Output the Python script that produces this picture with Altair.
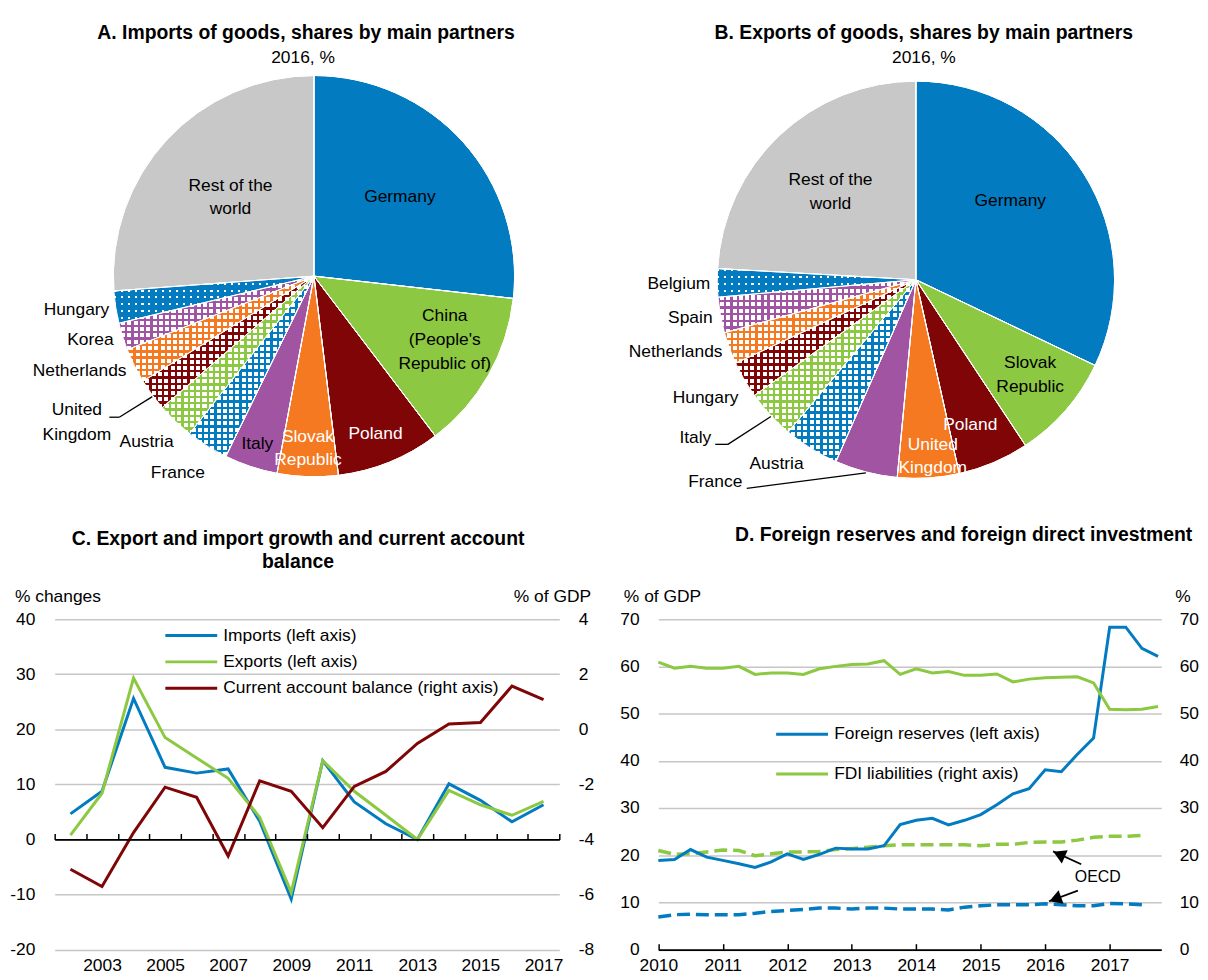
import math
import altair as alt
import pandas as pd

FONT = "Liberation Sans"
FS = 17.5
TFS = 19.5

BLUE = "#037BC1"
GREEN = "#8CC841"
RED = "#7F0506"
ORANGE = "#F47920"
PURPLE = "#A154A1"
GREY = "#C8C8C8"
CLEAR = "rgba(255,255,255,0)"

# ------------------------------------------------------------------ data
A_CATS = ["Germany", "China (People's Republic of)", "Poland", "Slovak Republic", "Italy",
          "France", "Austria", "United Kingdom", "Netherlands", "Korea", "Hungary",
          "Rest of the world"]
A_SHARES = [26.8, 12.9, 8.4, 4.9, 4.3, 3.4, 3.0, 2.6, 2.8, 2.2, 2.6, 26.2]

B_CATS = ["Germany", "Slovak Republic", "Poland", "United Kingdom", "France", "Austria",
          "Italy", "Hungary", "Netherlands", "Spain", "Belgium", "Rest of the world"]
B_SHARES = [32.1, 8.6, 5.8, 5.0, 5.1, 4.5, 4.0, 3.0, 2.6, 2.9, 2.3, 24.1]

C_YEARS = [2002, 2003, 2004, 2005, 2006, 2007, 2008, 2009,
           2010, 2011, 2012, 2013, 2014, 2015, 2016, 2017]
C_IMPORTS = [4.65, 8.75, 25.6, 13.1, 12.05, 12.8, 3.3, -10.8,
             14.3, 6.8, 2.85, 0.0, 10.1, 7.1, 3.2, 6.3]
C_EXPORTS = [0.8, 8.4, 29.3, 18.5, 14.8, 11.1, 4.05, -9.6,
             14.3, 8.75, 4.4, 0.0, 8.9, 6.3, 4.4, 6.9]
C_CURRENT = [-5.08, -5.71, -3.75, -2.1, -2.47, -4.6, -1.87, -2.25,
             -3.57, -2.07, -1.53, -0.51, 0.19, 0.25, 1.57, 1.08]
C_SERIES = ["Imports (left axis)", "Exports (left axis)",
            "Current account balance (right axis)"]

D_QUARTERS = [f"{y}Q{q}" for y in range(2010, 2018) for q in range(1, 5)]
D_RESERVES = [18.9, 19.1, 21.2, 19.6, 18.9, 18.2, 17.4, 18.6,
              20.3, 19.1, 20.2, 21.5, 21.3, 21.3, 22.0, 26.5,
              27.4, 27.8, 26.4, 27.4, 28.6, 30.7, 33.0, 34.1,
              38.1, 37.7, 41.4, 44.8, 68.3, 68.3, 63.8, 62.1]
D_RESERVES_OECD = [6.9, 7.4, 7.5, 7.4, 7.4, 7.4, 7.7, 8.1,
                   8.3, 8.5, 8.8, 8.8, 8.6, 8.8, 8.8, 8.6,
                   8.6, 8.6, 8.4, 9.0, 9.3, 9.5, 9.5, 9.5,
                   9.7, 9.5, 9.3, 9.3, 9.8, 9.7, 9.5]
D_FDI = [60.9, 59.6, 60.0, 59.6, 59.6, 60.0, 58.3, 58.6,
         58.6, 58.3, 59.5, 60.0, 60.4, 60.5, 61.2, 58.3,
         59.5, 58.6, 58.9, 58.1, 58.1, 58.4, 56.7, 57.3,
         57.6, 57.7, 57.8, 56.5, 50.9, 50.8, 50.9, 51.5]
D_FDI_OECD = [21.0, 20.2, 20.3, 20.7, 21.1, 21.0, 19.9, 20.3,
              20.7, 20.7, 20.8, 21.2, 21.4, 21.7, 22.0, 22.2,
              22.2, 22.2, 22.2, 22.2, 22.0, 22.3, 22.3, 22.7,
              22.8, 22.8, 23.2, 23.8, 24.0, 24.0, 24.2]
D_SERIES = ["Foreign reserves (left axis)", "FDI liabilities (right axis)"]

# ------------------------------------------------------------------ styles
SLICE_STYLE = ["solid", "solid", "solid", "solid", "solid",
               "hatch", "hatch", "hatch", "hatch", "hatch", "dots", "solid"]
SLICE_COLOR = [BLUE, GREEN, RED, ORANGE, PURPLE,
               BLUE, GREEN, RED, ORANGE, PURPLE, BLUE, GREY]
HATCH_PERIOD, HATCH_FRAC = 6.3, 0.36
DOT_PERIOD, DOT_FRAC = 7.0, 0.3

LINES = {
    "Rest of the world": ["Rest of the", "world"],
    "China (People's Republic of)": ["China", "(People's", "Republic of)"],
    "Slovak Republic": ["Slovak", "Republic"],
    "United Kingdom": ["United", "Kingdom"],
}

# label placement (pixels in the view, first line): name -> x, y, align, colour, line height
A_LABEL_POS = {
    "Germany": (394.5, 187, "center", "black", 24),
    "China (People's Republic of)": (439.7, 307, "center", "black", 24),
    "Poland": (370, 426, "center", "white", 24),
    "Slovak Republic": (302, 428.7, "center", "white", 23.5),
    "Italy": (251, 436, "center", "black", 24),
    "France": (171, 465.3, "center", "black", 24),
    "Austria": (139.5, 433.3, "center", "black", 24),
    "United Kingdom": (69.3, 401, "center", "black", 25.5),
    "Netherlands": (119.3, 362.7, "right", "black", 24),
    "Korea": (106.3, 331.3, "right", "black", 24),
    "Hungary": (102, 300.7, "right", "black", 24),
    "Rest of the world": (224, 176, "center", "black", 23.3),
}
B_LABEL_POS = {
    "Germany": (1009, 191.3, "center", "black", 24),
    "Slovak Republic": (1029, 353.7, "center", "black", 24.3),
    "Poland": (968.7, 416.3, "center", "white", 24),
    "United Kingdom": (931, 437, "center", "white", 23.2),
    "France": (712, 473.7, "center", "black", 24),
    "Austria": (773.7, 456, "center", "black", 24),
    "Italy": (708, 429.7, "right", "black", 24),
    "Hungary": (735.3, 389.3, "right", "black", 24),
    "Netherlands": (719.3, 342.7, "right", "black", 24),
    "Spain": (709.3, 308.7, "right", "black", 24),
    "Belgium": (707, 274.7, "right", "black", 24),
    "Rest of the world": (828, 170.3, "center", "black", 23.4),
}
LEADERS = [
    ((102, 408.7), (112, 408.7)), ((112, 408.7), (145.3, 388)),
    ((712, 436), (724.7, 436)), ((724.7, 436), (768, 408)),
    ((743.7, 480.3), (863.7, 464.7)),
]
HYPHEN_LABEL = "datum.value < 0 ? '-' + abs(datum.value) : '' + datum.value"

DUMMY = alt.Data(values=[{}])


def stripes(c_on, c_off, n, frac, along_x):
    stops = []
    for k in range(n):
        a, b, c = k / n, (k + frac) / n, (k + 1) / n
        stops += [{"offset": round(a, 5), "color": c_on},
                  {"offset": round(b, 5), "color": c_on},
                  {"offset": round(b, 5), "color": c_off},
                  {"offset": round(c, 5), "color": c_off}]
    return {"gradient": "linear", "stops": stops, "x1": 0, "y1": 0,
            "x2": 1 if along_x else 0, "y2": 0 if along_x else 1}


def wedge_bbox(a0, a1, r):
    xs, ys = [0.0], [0.0]
    for j in range(81):
        t = math.radians(a0 + (a1 - a0) * j / 80)
        xs.append(r * math.sin(t))
        ys.append(-r * math.cos(t))
    return max(xs) - min(xs), max(ys) - min(ys)


def text_layer(x, y, txt, size=FS, weight="normal", align="center",
               baseline="middle", color="black", line_height=24):
    return alt.Chart(DUMMY).mark_text(
        font=FONT, fontSize=size, fontWeight=weight, align=align,
        baseline=baseline, color=color, lineHeight=line_height
    ).encode(x=alt.value(x), y=alt.value(y), text=alt.value(txt))


def pie(cats, shares, cx, cy, r, label_pos):
    df = pd.DataFrame({"cat": cats, "share": shares, "idx": list(range(len(cats)))})
    base = (alt.Chart(df)
            .transform_joinaggregate(total="sum(share)")
            .transform_window(cum="sum(share)", sort=[alt.SortField("idx")], frame=[None, 0])
            .transform_calculate(end="datum.cum / datum.total",
                                 start="(datum.cum - datum.share) / datum.total"))
    enc = dict(theta=alt.Theta("start:Q", scale=alt.Scale(domain=[0, 1])),
               theta2=alt.Theta2("end:Q"), x=alt.value(cx), y=alt.value(cy))
    base_fill = ["white" if s == "hatch" else c for s, c in zip(SLICE_STYLE, SLICE_COLOR)]
    layers = [base.mark_arc(radius=r, stroke="white", strokeWidth=1).encode(
        fill=alt.Fill("cat:N", scale=alt.Scale(domain=cats, range=base_fill), legend=None),
        **enc)]
    total = sum(shares)
    acc = 0.0
    for i, s in enumerate(shares):
        a0 = acc / total * 360
        acc += s
        a1 = acc / total * 360
        style = SLICE_STYLE[i]
        if style == "solid":
            continue
        w, h = wedge_bbox(a0, a1, r)
        sub = base.transform_filter(f"datum.idx == {i}")
        if style == "hatch":
            g1 = stripes(SLICE_COLOR[i], CLEAR, max(2, round(w / HATCH_PERIOD)), HATCH_FRAC, True)
            g2 = stripes(SLICE_COLOR[i], CLEAR, max(2, round(h / HATCH_PERIOD)), HATCH_FRAC, False)
        else:
            g1 = stripes("white", CLEAR, max(2, round(w / DOT_PERIOD)), DOT_FRAC, True)
            g2 = stripes(CLEAR, SLICE_COLOR[i], max(2, round(h / DOT_PERIOD)), DOT_FRAC, False)
        layers.append(sub.mark_arc(radius=r, fill=g1).encode(**enc))
        layers.append(sub.mark_arc(radius=r, fill=g2).encode(**enc))
    layers.append(base.mark_arc(radius=r, fill="white", fillOpacity=0, stroke="white",
                                strokeWidth=1).encode(**enc))
    for cat in cats:
        x, y, al, col, lh = label_pos[cat]
        layers.append(text_layer(x, y, LINES.get(cat, cat), align=al, color=col,
                                 line_height=lh))
    return layers


# ------------------------------------------------------------------ panel C
C_X = alt.Scale(domain=[2001.5, 2017.5], range=[47, 555], nice=False, zero=False)
C_YL = alt.Scale(domain=[-20, 40], range=[944.7, 612], nice=False, zero=False)
C_YR = alt.Scale(domain=[-8, 4], range=[944.7, 612], nice=False, zero=False)

c_left_df = pd.DataFrame({"year": C_YEARS * 2, "value": C_IMPORTS + C_EXPORTS,
                          "series": [C_SERIES[0]] * len(C_YEARS) + [C_SERIES[1]] * len(C_YEARS)})
c_right_df = pd.DataFrame({"year": C_YEARS, "value": C_CURRENT,
                           "series": [C_SERIES[2]] * len(C_YEARS)})

c_legend = alt.Legend(orient="none", legendX=174, legendY=618, title=None,
                      symbolType="M-2.9,0H2.9", symbolSize=324, symbolStrokeWidth=3,
                      labelOffset=21.7, rowPadding=7.5, labelFontSize=FS, labelFont=FONT,
                      labelColor="black", labelLimit=500)
c_color = alt.Color("series:N", scale=alt.Scale(domain=C_SERIES, range=[BLUE, GREEN, RED]),
                    legend=c_legend)

c_left = alt.Chart(c_left_df).mark_line(strokeWidth=3).encode(
    x=alt.X("year:Q", scale=C_X, axis=alt.Axis(
        orient="bottom", offset=-27.3, values=[2003, 2005, 2007, 2009, 2011, 2013, 2015, 2017],
        format="d", domain=False, ticks=False, grid=False, labelPadding=7, labelFlush=False,
        title=None)),
    y=alt.Y("value:Q", scale=C_YL, axis=alt.Axis(
        orient="left", offset=-47, values=[-20, -10, 0, 10, 20, 30, 40], grid=True,
        gridColor="#C6C6C6", gridWidth=1.5, domain=False, ticks=False, tickSize=0,
        labelPadding=20, labelFlush=False, labelExpr=HYPHEN_LABEL, title=None)),
    color=c_color,
)
c_right = alt.Chart(c_right_df).mark_line(strokeWidth=3).encode(
    x=alt.X("year:Q", scale=C_X, axis=alt.Axis(
        orient="top", offset=-833.8, values=[y - 0.5 for y in range(2002, 2019)],
        labels=False, grid=False, domain=True, domainColor="black", domainWidth=1.8,
        ticks=True, tickColor="black", tickSize=6, tickWidth=1.5, zindex=1, title=None)),
    y=alt.Y("value:Q", scale=C_YR, axis=alt.Axis(
        orient="right", offset=-645, values=[-8, -6, -4, -2, 0, 2, 4], grid=False,
        domain=False, ticks=False, tickSize=0, labelPadding=19, labelFlush=False,
        labelExpr=HYPHEN_LABEL, title=None)),
    color=c_color,
)
panel_c = alt.layer(c_left, c_right).resolve_scale(y="independent").resolve_axis(
    x="independent", y="independent")

# ------------------------------------------------------------------ panel D
D_T = [int(q[:4]) + (int(q[-1]) - 1) / 4 for q in D_QUARTERS]
D_X = alt.Scale(domain=[2010, 2017.8], range=[654.7, 1161], nice=False, zero=False)
D_Y = alt.Scale(domain=[0, 70], range=[944.7, 612], nice=False, zero=False)

d_legend = alt.Legend(orient="none", legendX=788.9, legendY=717.3, title=None,
                      symbolType="M-2.9,0H2.9", symbolSize=324, symbolStrokeWidth=3,
                      labelOffset=21.8, rowPadding=21, labelFontSize=FS, labelFont=FONT,
                      labelColor="black", labelLimit=500)
d_color = alt.Color("series:N", scale=alt.Scale(domain=D_SERIES, range=[BLUE, GREEN]),
                    legend=d_legend)

res_df = pd.DataFrame({"t": D_T, "value": D_RESERVES, "series": D_SERIES[0]})
fdi_df = pd.DataFrame({"t": D_T, "value": D_FDI, "series": D_SERIES[1]})
res_oecd_df = pd.DataFrame({"t": D_T[:len(D_RESERVES_OECD)], "value": D_RESERVES_OECD})
fdi_oecd_df = pd.DataFrame({"t": D_T[:len(D_FDI_OECD)], "value": D_FDI_OECD})

x_none = dict(scale=D_X, axis=None)
y_none = dict(scale=D_Y, axis=None)

d_res_oecd = alt.Chart(res_oecd_df).mark_line(strokeWidth=3.5, strokeDash=[13, 6], color=BLUE).encode(
    x=alt.X("t:Q", **x_none), y=alt.Y("value:Q", **y_none))
d_fdi_oecd = alt.Chart(fdi_oecd_df).mark_line(strokeWidth=3.5, strokeDash=[13, 6], color=GREEN).encode(
    x=alt.X("t:Q", **x_none), y=alt.Y("value:Q", **y_none))
d_res = alt.Chart(res_df).mark_line(strokeWidth=3).encode(
    x=alt.X("t:Q", scale=D_X, axis=alt.Axis(
        orient="bottom", offset=-27.3, values=list(range(2010, 2018)), format="d",
        domain=False, ticks=False, grid=False, labelPadding=7, labelFlush=False, title=None)),
    y=alt.Y("value:Q", scale=D_Y, axis=alt.Axis(
        orient="left", offset=-654.7, values=list(range(0, 80, 10)), grid=True,
        gridColor="#C6C6C6", gridWidth=1.5, domain=False, ticks=False, tickSize=0,
        labelPadding=19.4, labelFlush=False, title=None)),
    color=d_color,
)
d_fdi = alt.Chart(fdi_df).mark_line(strokeWidth=3).encode(
    x=alt.X("t:Q", scale=D_X, axis=alt.Axis(
        orient="top", offset=-944.7, values=list(range(2010, 2018)), labels=False,
        grid=False, domain=True, domainColor="black", domainWidth=1.8, ticks=True,
        tickColor="black", tickSize=6, tickWidth=1.5, zindex=1, title=None)),
    y=alt.Y("value:Q", scale=D_Y, axis=alt.Axis(
        orient="right", offset=-39, values=list(range(0, 80, 10)), grid=False,
        domain=False, ticks=False, tickSize=0, labelPadding=18, labelFlush=False, title=None)),
    color=d_color,
)

# OECD annotation: (tail t, tail v, tip t, tip v, head centre t, head centre v, angle)
ARROWS = [(2016.558, 18.09, 2016.122, 20.81, 2016.215, 20.2, 294),
          (2016.507, 12.5, 2016.06, 10.25, 2016.155, 10.72, 250)]
ann = []
for t0, v0, t1, v1, th, vh, ang in ARROWS:
    ann.append(alt.Chart(DUMMY).mark_rule(color="black", strokeWidth=1.8).encode(
        x=alt.XDatum(t0, type="quantitative", scale=D_X, axis=None),
        x2=alt.X2Datum(t1),
        y=alt.YDatum(v0, type="quantitative", scale=D_Y, axis=None),
        y2=alt.Y2Datum(v1)))
    ann.append(alt.Chart(DUMMY).mark_point(shape="triangle-up", filled=True, color="black",
                                           opacity=1, size=210, angle=ang).encode(
        x=alt.XDatum(th, type="quantitative", scale=D_X, axis=None),
        y=alt.YDatum(vh, type="quantitative", scale=D_Y, axis=None)))
ann.append(alt.Chart(DUMMY).mark_text(font=FONT, fontSize=16, color="black").encode(
    x=alt.XDatum(2016.815, type="quantitative", scale=D_X, axis=None),
    y=alt.YDatum(15.3, type="quantitative", scale=D_Y, axis=None),
    text=alt.value("OECD")))

panel_d = alt.layer(d_res_oecd, d_fdi_oecd, d_res, d_fdi, *ann).resolve_scale(
    y="independent").resolve_axis(x="independent", y="independent")

# ------------------------------------------------------------------ texts
texts = [
    text_layer(300, 28, "A. Imports of goods, shares by main partners", size=TFS,
               weight="bold", baseline="alphabetic"),
    text_layer(297, 52, "2016, %", baseline="alphabetic"),
    text_layer(922, 28, "B. Exports of goods, shares by main partners", size=TFS,
               weight="bold", baseline="alphabetic"),
    text_layer(922, 52, "2016, %", baseline="alphabetic"),
    text_layer(292, 537, ["C. Export and import growth and current account", "balance"],
               size=TFS, weight="bold", baseline="alphabetic", line_height=23.3),
    text_layer(962, 533.7, "D. Foreign reserves and foreign direct investment", size=TFS,
               weight="bold", baseline="alphabetic"),
    text_layer(7, 595, "% changes", align="left", baseline="alphabetic"),
    text_layer(587, 595, "% of GDP", align="right", baseline="alphabetic"),
    text_layer(620, 595, "% of GDP", align="left", baseline="alphabetic"),
    text_layer(1175, 595, "%", align="left", baseline="alphabetic"),
]
leaders = [alt.Chart(DUMMY).mark_rule(color="black", strokeWidth=1.3).encode(
    x=alt.value(p[0]), y=alt.value(p[1]), x2=alt.value(q[0]), y2=alt.value(q[1]))
    for p, q in LEADERS]

layers = (pie(A_CATS, A_SHARES, 308, 266.7, 202, A_LABEL_POS)
          + pie(B_CATS, B_SHARES, 914, 270.3, 200, B_LABEL_POS)
          + leaders + texts + [panel_c, panel_d])

chart = alt.layer(*layers).resolve_scale(
    x="independent", y="independent", color="independent", fill="independent",
    theta="independent"
).resolve_axis(x="independent", y="independent").resolve_legend(
    color="independent", fill="independent"
).properties(
    width=1200, height=972, padding=0, autosize=alt.AutoSizeParams(type="none")
).configure(font=FONT).configure_view(strokeWidth=0).configure_axis(
    labelFont=FONT, labelFontSize=FS, labelColor="black"
)

chart.save("out.html", embed_options={"renderer": "svg", "actions": False})
